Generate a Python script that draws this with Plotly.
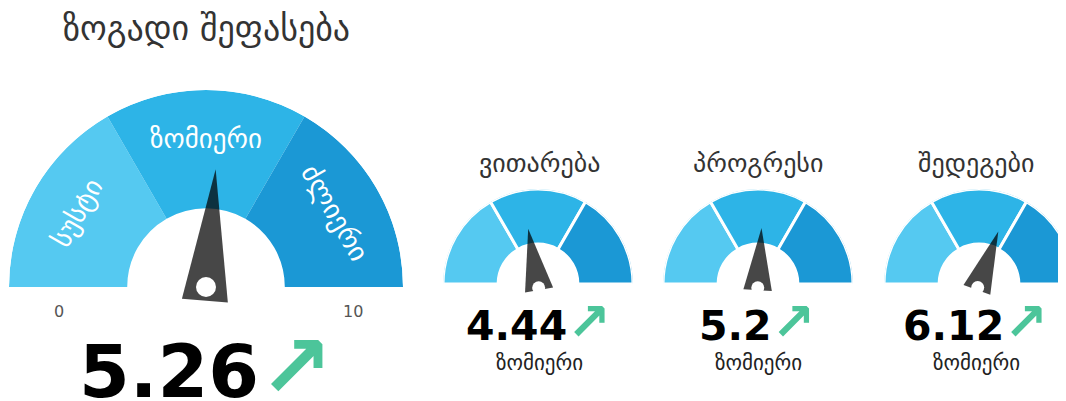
import math

import plotly.graph_objects as go

W, H = 1066, 401
OFF = 8  # the page body keeps its default 8px margin

title = "ზოგადი შეფასება"
scale_min, scale_max = 0, 10
band_edges = [0, 10 / 3, 20 / 3, 10]
band_labels = ["სუსტი", "ზომიერი", "ძლიერი"]
band_colors = ["#55C9F1", "#2DB4E7", "#1B98D5"]

overall_value = 5.26
sub_names = ["ვითარება", "პროგრესი", "შედეგები"]
sub_values = [4.44, 5.2, 6.12]
sub_levels = ["ზომიერი", "ზომიერი", "ზომიერი"]

FONT = "DejaVu Sans"
ARROW_COLOR = "#4CC59A"
NEEDLE_COLOR = "rgba(0,0,0,0.72)"

# gauge placement in window pixels: centre x, centre y, outer radius
big_gauge = (206, 287, 197)
small_gauges = [(538, 284, 95), (758, 284, 95), (979, 284, 95)]


def to_theta(v):
    return (v - scale_min) / (scale_max - scale_min) * 180


def fx(x):
    return min(max((x - OFF) / W, 0), 1)


def fy(y):
    return min(max(1 - (y - OFF) / H, 0), 1)


def band_polar(cx, cy, r):
    return dict(
        domain=dict(x=[fx(cx - r), fx(cx + r)], y=[fy(cy), fy(cy - r)]),
        sector=[0, 180],
        bgcolor="rgba(0,0,0,0)",
        radialaxis=dict(visible=False, range=[0, 1]),
        angularaxis=dict(visible=False, rotation=180, direction="clockwise"),
    )


def needle_polar(cx, cy, r, tip):
    rn = tip * r + 2
    return dict(
        domain=dict(x=[fx(cx - rn), fx(cx + rn)], y=[fy(cy + rn), fy(cy - rn)]),
        bgcolor="rgba(0,0,0,0)",
        radialaxis=dict(visible=False, range=[0, rn / r]),
        angularaxis=dict(visible=False, rotation=180, direction="clockwise"),
    )


def add_gauge(fig, bands, needle, value, hole, line_width, tip, half_w, back, dot):
    lo, hi = band_edges[:-1], band_edges[1:]
    fig.add_trace(
        go.Barpolar(
            theta=[(to_theta(a) + to_theta(b)) / 2 for a, b in zip(lo, hi)],
            width=[to_theta(b) - to_theta(a) for a, b in zip(lo, hi)],
            r=[1 - hole] * len(lo),
            base=hole,
            marker=dict(color=band_colors, line=dict(color="white", width=line_width)),
            subplot=bands,
            hoverinfo="skip",
        )
    )
    tv = to_theta(value)
    side = 90 + math.degrees(math.atan2(back, half_w))
    rb = math.hypot(half_w, back)
    fig.add_trace(
        go.Scatterpolar(
            r=[tip, rb, rb, tip],
            theta=[tv, tv + side, tv - side, tv],
            mode="lines",
            fill="toself",
            fillcolor=NEEDLE_COLOR,
            line=dict(width=0, color=NEEDLE_COLOR),
            subplot=needle,
            hoverinfo="skip",
        )
    )
    fig.add_trace(
        go.Scatterpolar(
            r=[dot[1]],
            theta=[tv + 180],
            mode="markers",
            marker=dict(color="white", size=dot[0]),
            subplot=needle,
            hoverinfo="skip",
        )
    )


fig = go.Figure()
layout = {}

cx, cy, R = big_gauge
layout["polar"] = band_polar(cx, cy, R)
layout["polar2"] = needle_polar(cx, cy, R, 0.60)
add_gauge(fig, "polar", "polar2", overall_value, 0.40, 0, 0.60, 0.117, 0.07, (20, 0.0))

for i, (gx, gy, gr) in enumerate(small_gauges):
    bands, needle = f"polar{2 * i + 3}", f"polar{2 * i + 4}"
    layout[bands] = band_polar(gx, gy, gr)
    layout[needle] = needle_polar(gx, gy, gr, 0.59)
    add_gauge(fig, bands, needle, sub_values[i], 0.42, 3, 0.59, 0.15, 0.065, (13, 0.04))

annotations = []


def text(x, y, s, size, color="#222", angle=0):
    annotations.append(
        dict(
            x=fx(x), y=fy(y), xref="paper", yref="paper", text=s,
            showarrow=False, textangle=angle, xanchor="center", yanchor="middle",
            font=dict(family=FONT, size=size, color=color),
        )
    )


def value_text(v, arrow_size):
    return (
        f"<b>{v}</b><span style='color:{ARROW_COLOR};font-size:{arrow_size}px'>"
        f"<b>↗</b></span>"
    )


text(206, 28, title, 34, "#333")

# band labels on the big gauge
for a, b, label in zip(band_edges[:-1], band_edges[1:], band_labels):
    mid = (to_theta(a) + to_theta(b)) / 2
    ang = math.radians(180 - mid)
    text(cx + 0.755 * R * math.cos(ang), cy - 0.755 * R * math.sin(ang), label, 27, "white", angle=mid - 90)

text(cx - 0.745 * R, 311, str(scale_min), 16, "#555")
text(cx + 0.745 * R, 311, str(scale_max), 16, "#555")
text(cx, 366, value_text(overall_value, 88), 73, "black")

title_x = [539, 758, 976]
for tx, name, v, lvl in zip(title_x, sub_names, sub_values, sub_levels):
    text(tx, 163, name, 26, "#333")
    text(tx - 1, 321.5, value_text(v, 52), 41, "black")
    text(tx, 363, lvl, 21, "#222")

fig.update_layout(
    width=W,
    height=H,
    margin=dict(l=0, r=0, t=0, b=0),
    paper_bgcolor="white",
    plot_bgcolor="white",
    showlegend=False,
    annotations=annotations,
    **layout,
)

fig.write_html("out.html")
